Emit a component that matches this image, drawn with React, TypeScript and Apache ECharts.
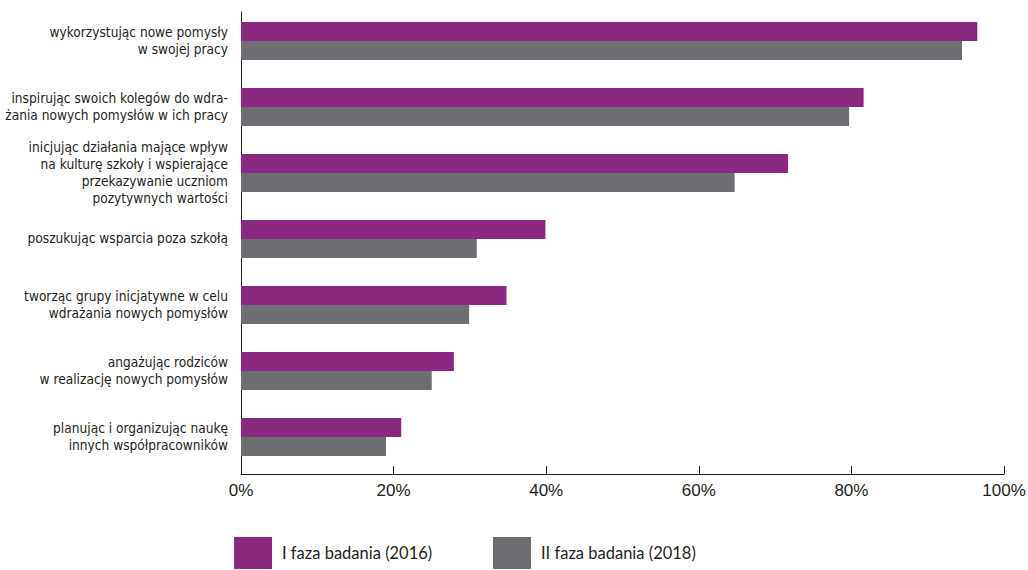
import React, { useEffect, useRef } from "react";
import * as echarts from "echarts";

const categories = [
  "wykorzystując nowe pomysły\nw swojej pracy",
  "inspirując swoich kolegów do wdra-\nżania nowych pomysłów w ich pracy",
  "inicjując działania mające wpływ\nna kulturę szkoły i wspierające\nprzekazywanie uczniom\npozytywnych wartości",
  "poszukując wsparcia poza szkołą",
  "tworząc grupy inicjatywne w celu\nwdrażania nowych pomysłów",
  "angażując rodziców\nw realizację nowych pomysłów",
  "planując i organizując naukę\ninnych współpracowników",
];

const series2016Name = "I faza badania (2016)";
const series2018Name = "II faza badania (2018)";
const values2016 = [96.5, 81.6, 71.7, 39.9, 34.8, 27.9, 21.0];
const values2018 = [94.5, 79.7, 64.7, 30.9, 29.9, 25.0, 19.0];
const spacer = categories.map(() => null);

const PURPLE = "#8b2882";
const GRAY = "#6d6e71";
const LABEL_FONT = "'Liberation Sans Narrow', 'DejaVu Sans Condensed', 'Roboto Condensed', 'Liberation Sans', sans-serif";

export default function App() {
  const ref = useRef<HTMLDivElement>(null);
  useEffect(() => {
    if (!ref.current) return;
    const chart = echarts.init(ref.current, null, { renderer: "svg" });
    const legendText = { fontFamily: "Lato, 'Open Sans', sans-serif", fontSize: 16.5, color: "#231f20", padding: [0, 0, 0, 5] };
    chart.setOption({
      animation: false,
      backgroundColor: "#ffffff",
      grid: { left: 241, right: 24, top: 12, bottom: 96, containLabel: false, outerBoundsMode: "none" },
      legend: [
        {
          data: [series2016Name],
          left: 234,
          top: 537,
          padding: 0,
          itemWidth: 38,
          itemHeight: 32,
          icon: "rect",
          selectedMode: false,
          textStyle: legendText,
        },
        {
          data: [series2018Name],
          left: 493,
          top: 537,
          padding: 0,
          itemWidth: 38,
          itemHeight: 32,
          icon: "rect",
          selectedMode: false,
          textStyle: legendText,
        },
      ],
      xAxis: {
        type: "value",
        min: 0,
        max: 100,
        interval: 20,
        axisLine: { show: true, lineStyle: { color: "#231f20", width: 1 } },
        axisTick: { show: true, inside: true, length: 8, lineStyle: { color: "#231f20", width: 1 } },
        splitLine: { show: false },
        axisLabel: {
          formatter: "{value}%",
          fontFamily: "'Liberation Sans', Arial, sans-serif",
          fontSize: 17,
          color: "#231f20",
          margin: 8,
        },
      },
      yAxis: {
        type: "category",
        inverse: true,
        data: categories,
        axisLine: { show: true, lineStyle: { color: "#231f20", width: 1 } },
        axisTick: { show: false },
        axisLabel: {
          fontFamily: LABEL_FONT,
          fontSize: 13.6,
          lineHeight: 17,
          color: "#231f20",
          margin: 13,
          align: "right",
          formatter: (v: string) =>
            v
              .split("\n")
              .map((line) => "{t|" + line + "}")
              .join("\n") + "\n{gap|}",
          rich: {
            t: { fontFamily: LABEL_FONT, fontSize: 13.6, lineHeight: 17, color: "#231f20", align: "right" },
            gap: { lineHeight: 10, fontSize: 1 },
          },
        },
      },
      series: [
        {
          name: series2016Name,
          type: "bar",
          data: values2016,
          barWidth: 19,
          barGap: "0%",
          itemStyle: { color: PURPLE },
        },
        {
          name: series2018Name,
          type: "bar",
          data: values2018,
          barWidth: 19,
          barGap: "0%",
          itemStyle: { color: GRAY },
        },
        {
          name: "spacer",
          type: "bar",
          data: spacer,
          barWidth: 8,
          barGap: "0%",
          silent: true,
          itemStyle: { color: "transparent" },
        },
      ],
    });
    return () => chart.dispose();
  }, []);
  return <div ref={ref} style={{ width: 1028, height: 570, position: "absolute", left: 0, top: 0 }} />;
}
